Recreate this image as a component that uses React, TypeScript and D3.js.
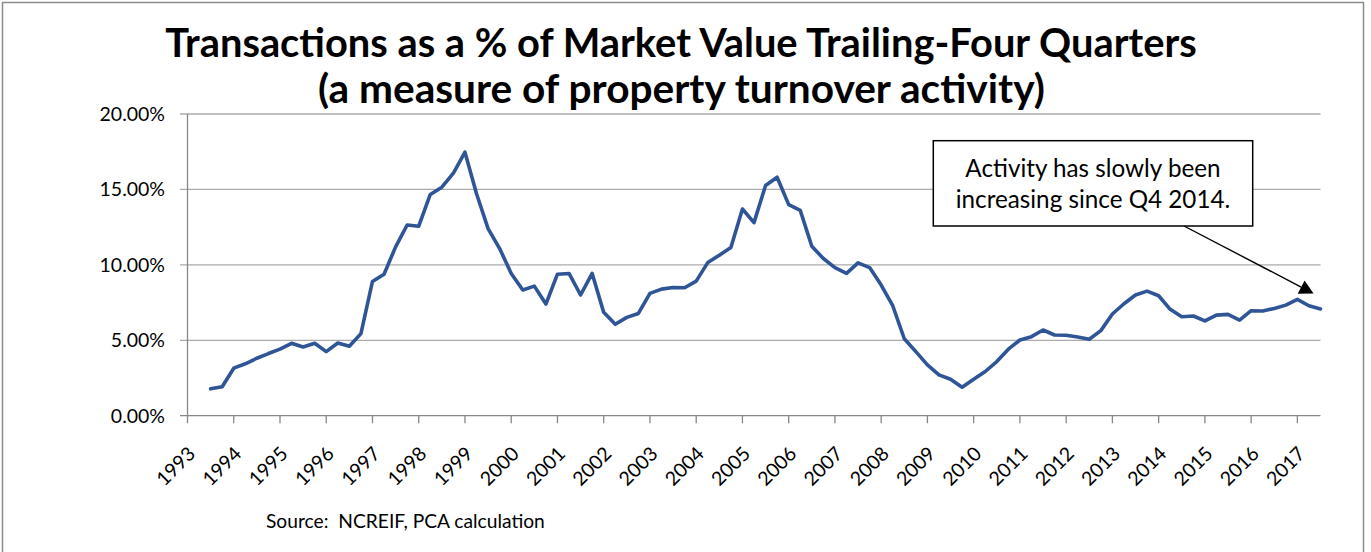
import React, { useEffect, useRef } from "react";
import * as d3 from "d3";

const W = 1371;
const H = 552;

const yearLabels = [
  "1993", "1994", "1995", "1996", "1997", "1998", "1999", "2000", "2001",
  "2002", "2003", "2004", "2005", "2006", "2007", "2008", "2009", "2010",
  "2011", "2012", "2013", "2014", "2015", "2016", "2017",
];

// quarterly series, first value = 1993 Q3 (quarter index 2 counted from 1993 Q1)
const firstQuarterIndex = 2;
const lastQuarterIndex = 98;
const turnoverPct = [
  1.78, 1.92, 3.15, 3.44, 3.81, 4.12, 4.41, 4.8, 4.56, 4.8, 4.25, 4.82, 4.6, 5.44,
  8.9, 9.38, 11.19, 12.64, 12.56, 14.67, 15.15, 16.08, 17.47, 14.71, 12.4, 11.08,
  9.43, 8.33, 8.59, 7.4, 9.38, 9.43, 8.0, 9.43, 6.85, 6.06, 6.52, 6.78, 8.11, 8.39,
  8.5, 8.48, 8.92, 10.15, 10.64, 11.15, 13.7, 12.8, 15.26, 15.81, 13.99, 13.61,
  11.23, 10.42, 9.82, 9.43, 10.13, 9.82, 8.66, 7.29, 5.1, 4.25, 3.37, 2.71, 2.42,
  1.89, 2.42, 2.93, 3.59, 4.41, 5.02, 5.24, 5.68, 5.35, 5.33, 5.22, 5.07, 5.64,
  6.74, 7.42, 8.0, 8.26, 7.95, 7.05, 6.56, 6.61, 6.28, 6.67, 6.72, 6.34, 6.96,
  6.94, 7.11, 7.33, 7.71, 7.29, 7.08,
];

const yTicks = [0, 0.05, 0.1, 0.15, 0.2];

const titleLines = [
  "Transactions as a % of Market Value Trailing-Four Quarters",
  "(a measure of property turnover activity)",
];
const noteLines = ["Activity has slowly been", "increasing since Q4 2014."];
const noteTarget = { quarter: 97.4, value: 0.081 };
const sourceText = "Source:  NCREIF, PCA calculation";

const FONT = "Lato, 'Open Sans', sans-serif";

function fitWidth(sel: any, target: number) {
  const node = sel.node() as SVGTextElement;
  const len = node.getComputedTextLength();
  const fs = parseFloat(sel.attr("font-size"));
  if (len > 0) sel.attr("font-size", (fs * target) / len);
}

export default function App() {
  const ref = useRef<SVGSVGElement>(null);

  useEffect(() => {
    const svg = d3.select(ref.current as SVGSVGElement);
    svg.selectAll("*").remove();

    const x = d3.scaleLinear().domain([0, lastQuarterIndex]).range([187.5, 1320.5]);
    const y = d3.scaleLinear().domain([0, 0.2]).range([415.7, 114]);

    // outer frame
    svg
      .append("rect")
      .attr("x", 2.5)
      .attr("y", 2.5)
      .attr("width", 1361)
      .attr("height", H + 20)
      .attr("fill", "#ffffff")
      .attr("stroke", "#8c8c8c")
      .attr("stroke-width", 1.5);

    // gridlines + y ticks
    const grid = svg.append("g");
    yTicks.forEach((t) => {
      grid
        .append("line")
        .attr("x1", x(0) - 7.5)
        .attr("x2", x(lastQuarterIndex))
        .attr("y1", y(t))
        .attr("y2", y(t))
        .attr("stroke", t === 0 ? "#878787" : "#ababab")
        .attr("stroke-width", 1.3);
    });

    // y axis
    svg
      .append("line")
      .attr("x1", x(0))
      .attr("x2", x(0))
      .attr("y1", y(0))
      .attr("y2", y(0.2))
      .attr("stroke", "#878787")
      .attr("stroke-width", 1.3);

    // x ticks
    yearLabels.forEach((lab, k) => {
      svg
        .append("line")
        .attr("x1", x(k * 4))
        .attr("x2", x(k * 4))
        .attr("y1", y(0))
        .attr("y2", y(0) + 7.5)
        .attr("stroke", "#878787")
        .attr("stroke-width", 1.3);
    });

    // y labels
    const fmt = d3.format(".2%");
    svg
      .append("g")
      .selectAll("text")
      .data(yTicks)
      .join("text")
      .attr("x", 165)
      .attr("y", (d) => y(d))
      .attr("dy", "0.36em")
      .attr("text-anchor", "end")
      .attr("font-family", FONT)
      .attr("font-size", 19.5)
      .attr("fill", "#000")
      .text((d) => fmt(d));

    // x labels
    svg
      .append("g")
      .selectAll("text")
      .data(yearLabels)
      .join("text")
      .attr("transform", (d, k) => `translate(${x(k * 4) + 9},${455}) rotate(-45)`)
      .attr("text-anchor", "end")
      .attr("font-family", FONT)
      .attr("font-size", 19.5)
      .attr("fill", "#000")
      .text((d) => d);

    // series line
    const line = d3
      .line<number>()
      .x((d, i) => x(i + firstQuarterIndex))
      .y((d) => y(d / 100));
    svg
      .append("path")
      .attr("d", line(turnoverPct) as string)
      .attr("fill", "none")
      .attr("stroke", "#2f5597")
      .attr("stroke-width", 3.6)
      .attr("stroke-linejoin", "round")
      .attr("stroke-linecap", "round");

    // titles
    const titleTargets = [
      { cx: 681, base: 57, w: 1032 },
      { cx: 681.5, base: 103, w: 727 },
    ];
    titleLines.forEach((t, i) => {
      const s = svg
        .append("text")
        .attr("x", titleTargets[i].cx)
        .attr("y", titleTargets[i].base)
        .attr("text-anchor", "middle")
        .attr("font-family", FONT)
        .attr("font-weight", "bold")
        .attr("font-size", 34)
        .attr("fill", "#000")
        .text(t);
      fitWidth(s, titleTargets[i].w);
    });

    // annotation box
    const box = { x: 933.3, y: 140.7, w: 319.4, h: 85.3 };
    const tip = [x(noteTarget.quarter), y(noteTarget.value)];
    const start = [1184, box.y + box.h];
    const dx = tip[0] - start[0];
    const dy = tip[1] - start[1];
    const L = Math.hypot(dx, dy);
    const ux = dx / L;
    const uy = dy / L;
    const headLen = 14;
    const headHalf = 7.5;
    const bx = tip[0] - ux * headLen;
    const by = tip[1] - uy * headLen;
    svg
      .append("line")
      .attr("x1", start[0])
      .attr("y1", start[1])
      .attr("x2", bx)
      .attr("y2", by)
      .attr("stroke", "#000")
      .attr("stroke-width", 1.4);
    svg
      .append("polygon")
      .attr(
        "points",
        [
          [tip[0], tip[1]],
          [bx - uy * headHalf, by + ux * headHalf],
          [bx + uy * headHalf, by - ux * headHalf],
        ]
          .map((p) => p.join(","))
          .join(" ")
      )
      .attr("fill", "#000");

    svg
      .append("rect")
      .attr("x", box.x)
      .attr("y", box.y)
      .attr("width", box.w)
      .attr("height", box.h)
      .attr("fill", "#fff")
      .attr("stroke", "#000")
      .attr("stroke-width", 1.5);
    const noteTargets = [
      { base: 176.7, w: 256 },
      { base: 208.3, w: 274 },
    ];
    const noteSel: any[] = [];
    noteLines.forEach((t, i) => {
      const s = svg
        .append("text")
        .attr("x", box.x + box.w / 2)
        .attr("y", noteTargets[i].base)
        .attr("text-anchor", "middle")
        .attr("font-family", FONT)
        .attr("font-size", 21)
        .attr("fill", "#000")
        .text(t);
      fitWidth(s, noteTargets[i].w);
      noteSel.push(s);
    });
    {
      const avg =
        (parseFloat(noteSel[0].attr("font-size")) + parseFloat(noteSel[1].attr("font-size"))) / 2;
      noteSel.forEach((s) => s.attr("font-size", avg));
    }

    // source
    const src = svg
      .append("text")
      .attr("x", 266)
      .attr("y", 527.5)
      .attr("font-family", FONT)
      .attr("font-size", 16)
      .attr("fill", "#000")
      .style("white-space", "pre")
      .text(sourceText);
    fitWidth(src, 279);
  }, []);

  return (
    <svg
      ref={ref}
      width={W}
      height={H}
      style={{ position: "absolute", left: 0, top: 0, background: "#fff" }}
    />
  );
}
